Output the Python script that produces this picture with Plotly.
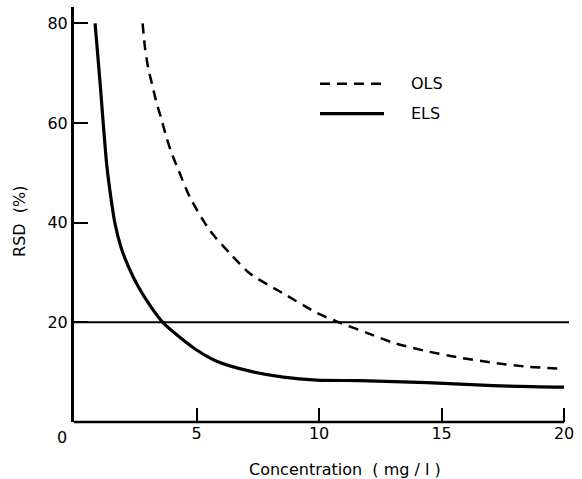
import plotly.graph_objects as go

# Data
ols_x = [2.80, 2.90, 3.03, 3.21, 3.37, 3.58, 3.78, 3.99, 4.26, 4.73, 5.55, 6.37, 7.18,
         8.54, 9.91, 10.86, 11.95, 13.03, 14.40, 15.76, 17.11, 18.48, 19.9]
ols_y = [80.0, 75.0, 71.0, 67.3, 64.0, 60.6, 57.0, 53.9, 50.6, 45.1, 38.4, 33.8, 29.8,
         25.8, 21.9, 19.9, 17.9, 15.9, 14.2, 12.9, 11.9, 11.1, 10.7]

els_x = [0.86, 1.06, 1.20, 1.33, 1.50, 1.67, 1.91, 2.22, 2.62, 3.17, 3.64, 4.87, 5.82,
         7.18, 8.54, 9.91, 11.67, 14.4, 17.11, 20.0]
els_y = [80.0, 68.3, 59.5, 51.9, 45.2, 39.9, 35.2, 31.2, 27.2, 22.9, 19.9, 14.9, 12.2,
         10.2, 9.0, 8.4, 8.3, 7.9, 7.3, 7.0]

ref_level = 20
ref_x = [0, 20.2]

x_ticks = [5, 10, 15, 20]
y_ticks = [20, 40, 60, 80]

legend_names = ["OLS", "ELS"]

FONT = "DejaVu Sans"
FS = 16
fig = go.Figure()

fig.add_trace(go.Scatter(x=ref_x, y=[ref_level, ref_level], mode="lines",
                         line=dict(color="black", width=2), showlegend=False,
                         hoverinfo="skip"))
fig.add_trace(go.Scatter(x=ols_x, y=ols_y, mode="lines", name="OLS",
                         line=dict(color="black", width=2.5, dash="10px,7px",
                                   shape="spline", smoothing=0.7),
                         showlegend=False))
fig.add_trace(go.Scatter(x=els_x, y=els_y, mode="lines", name="ELS",
                         line=dict(color="black", width=3.2, shape="spline", smoothing=0.7),
                         showlegend=False))

# x-axis baseline from 0 to 20
fig.add_shape(type="line", xref="x", yref="paper", x0=0, x1=20, y0=0, y1=0,
              line=dict(color="black", width=2.5))

# legend drawn manually
leg_y = [0.815, 0.743]
dashes = ["10px,7px", "solid"]
widths = [2.5, 3.2]
for name, ly, d, w in zip(legend_names, leg_y, dashes, widths):
    fig.add_shape(type="line", xref="paper", yref="paper",
                  x0=(320 - 74) / 495, x1=(384 - 74) / 495, y0=ly, y1=ly,
                  line=dict(color="black", width=w, dash=d))
    fig.add_annotation(xref="paper", yref="paper", x=(409 - 74) / 495, y=ly,
                       text=name, showarrow=False, xanchor="left", yanchor="middle",
                       font=dict(family=FONT, size=FS, color="black"))

# origin "0" label
fig.add_annotation(xref="x", yref="y", x=0, y=0, text="0", showarrow=False,
                   xshift=-12, yshift=-15, xanchor="center", yanchor="middle",
                   font=dict(family=FONT, size=FS, color="black"))

# axis titles
fig.add_annotation(xref="paper", yref="paper", x=(345 - 74) / 495, y=0, yshift=-47,
                   text="Concentration  ( mg / l )", showarrow=False,
                   xanchor="center", yanchor="middle",
                   font=dict(family=FONT, size=FS, color="black"))
fig.add_annotation(xref="paper", yref="paper", x=0, xshift=-54, y=0.482,
                   text="RSD  (%)", showarrow=False, textangle=-90,
                   xanchor="center", yanchor="middle",
                   font=dict(family=FONT, size=FS, color="black"))

fig.update_xaxes(range=[0, 20.2], tickvals=x_ticks, ticktext=[str(v) for v in x_ticks],
                 ticks="inside", ticklen=14, tickwidth=2, tickcolor="black",
                 showline=False, showgrid=False, zeroline=False,
                 tickfont=dict(family=FONT, size=FS, color="black"))
fig.update_yaxes(range=[0, 83.3], tickvals=y_ticks, ticktext=[str(v) for v in y_ticks],
                 ticks="inside", ticklen=14, tickwidth=2, tickcolor="black",
                 showline=True, linecolor="black", linewidth=3,
                 showgrid=False, zeroline=False,
                 tickfont=dict(family=FONT, size=FS, color="black"))

fig.update_layout(width=582, height=479, margin=dict(l=74, r=13, t=7, b=57),
                  paper_bgcolor="white", plot_bgcolor="white", showlegend=False)

fig.write_html("out.html", config={"displayModeBar": False},
               post_script="document.body.style.margin='0';document.body.style.overflow='hidden';")
